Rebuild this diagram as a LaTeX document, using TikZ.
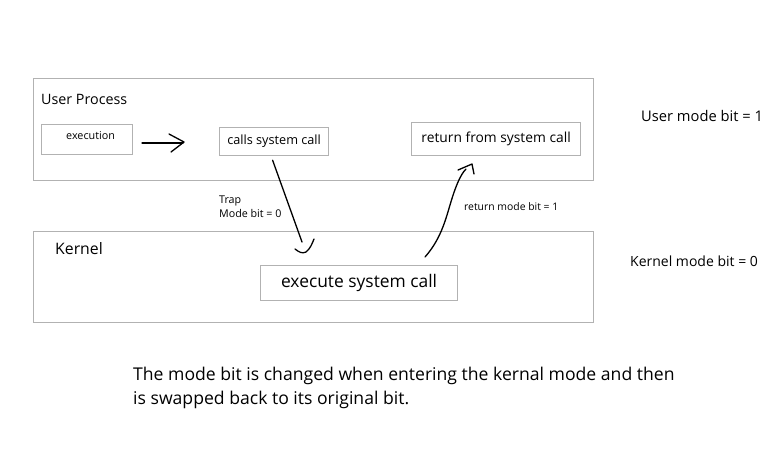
\documentclass[tikz,border=0pt]{standalone}
\usepackage{fontspec}
\setmainfont{Open Sans}
\begin{document}
\begin{tikzpicture}[x=1pt,y=-1pt,
  frame/.style={draw=black!30,line width=1.3pt},
  box/.style={draw=black!30,line width=1.2pt,inner sep=0pt,anchor=north west},
  lbl/.style={anchor=base west,inner sep=0pt},
  hand/.style={line width=1.3pt,line cap=round,line join=round}]
\useasboundingbox (0,0) rectangle (775,475);
% containers
\node[frame,anchor=north west,minimum width=560pt,minimum height=102pt,inner sep=0pt] (user) at (33,78) {};
\node[frame,anchor=north west,minimum width=560pt,minimum height=91pt,inner sep=0pt] (kern) at (33,231) {};
\node[lbl,font=\fontsize{14.3}{16}\selectfont] (ulbl) at (41,104) {User Process};
\node[lbl,font=\fontsize{15.8}{18}\selectfont] (klbl) at (55,254) {Kernel};
% inner boxes
\node[box,minimum width=91pt,minimum height=30pt] (exe) at (41,124) {};
\node[lbl,font=\fontsize{10.8}{12}\selectfont] (exet) at (66,139) {execution};
\node[box,minimum width=109pt,minimum height=28pt,font=\fontsize{12.7}{14}\selectfont] (calls) at (219,127) {calls system call};
\node[box,minimum width=169pt,minimum height=33pt,font=\fontsize{13.8}{16}\selectfont] (ret) at (411,122) {return from system call};
\node[box,minimum width=197pt,minimum height=35pt,font=\fontsize{17.4}{20}\selectfont] (sys) at (260,265) {execute system call};
% side labels
\node[lbl,font=\fontsize{14.7}{16}\selectfont] (um) at (641,121) {User mode bit = 1};
\node[lbl,font=\fontsize{14}{16}\selectfont] (km) at (630,266) {Kernel mode bit = 0};
% arrow labels
\node[lbl,font=\fontsize{10.7}{12}\selectfont] (trap) at (219,203) {Trap};
\node[lbl,font=\fontsize{10.7}{12}\selectfont] (mb0) at (219,217) {Mode bit = 0};
\node[lbl,font=\fontsize{10.4}{12}\selectfont] (rmb) at (464,210) {return mode bit = 1};
% bottom text
\node[lbl,font=\fontsize{17.6}{24}\selectfont] (n1) at (133,380.5) {The mode bit is changed when entering the kernal mode and then};
\node[lbl,font=\fontsize{17.6}{24}\selectfont] (n2) at (133,404) {is swapped back to its original bit.};
% coordinates for hand-drawn connectors
\coordinate (ha) at (142,143);
\coordinate (hb) at (183,143);
\coordinate (trapend) at (302,242);
\coordinate (retstart) at (425,257);
\coordinate (rettip) at (466,169);
% execution -> calls (hand drawn arrow)
\draw[hand] (ha) -- (hb);
\draw[hand] (169,134) -- (184,142) -- (171,152);
% calls -> kernel
\draw[hand] ([xshift=-1.5pt,yshift=-4pt]calls.south) -- (trapend);
\draw[hand] (295,249) .. controls (299,252) and (302,254) .. (306,252) .. controls (310,249) and (312,244) .. (314,239);
% kernel -> return
\draw[hand] (retstart) .. controls (440,240) and (445,222) .. (450,205) .. controls (455,188) and (460,175) .. (rettip);
\draw[hand] (458,170) -- (472,164) -- (474,174);
\end{tikzpicture}
\end{document}
